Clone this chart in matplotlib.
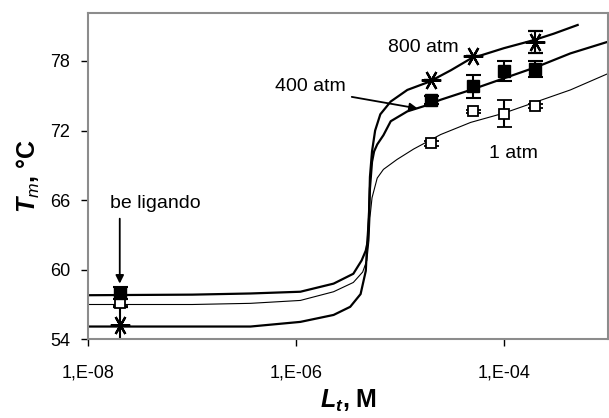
import matplotlib
matplotlib.use("Agg")
import matplotlib.pyplot as plt
import numpy as np

plt.rcParams['font.family'] = ['Liberation Sans', 'DejaVu Sans']
plt.rcParams['mathtext.fontset'] = 'custom'
plt.rcParams['mathtext.bfit'] = 'Liberation Sans:italic:bold'
plt.rcParams['mathtext.it'] = 'Liberation Sans:italic'
plt.rcParams['mathtext.bf'] = 'Liberation Sans:bold'
plt.rcParams['mathtext.rm'] = 'Liberation Sans'

# fitted curves: log10(L_t) and Tm
lx_800 = [-8.0, -7.0, -6.44, -5.96, -5.64, -5.48, -5.38, -5.33, -5.32, -5.30, -5.29,
          -5.27, -5.24, -5.19, -5.09, -4.93, -4.72, -4.51, -4.32, -4.0, -3.71, -3.52, -3.29]
tm_800 = [55.1, 55.1, 55.1, 55.5, 56.1, 56.8, 57.9, 59.9, 61.7, 64.5, 68.0,
          70.2, 72.0, 73.4, 74.5, 75.5, 76.2, 77.2, 78.2, 79.1, 79.8, 80.35, 81.1]

lx_400 = [-8.0, -7.0, -6.44, -5.96, -5.64, -5.45, -5.37, -5.33, -5.31, -5.30, -5.29,
          -5.27, -5.25, -5.22, -5.16, -5.09, -4.93, -4.77, -4.61, -4.32, -4.0, -3.68, -3.36, -3.0]
tm_400 = [57.8, 57.85, 57.95, 58.1, 58.8, 59.65, 60.8, 61.65, 62.5, 64.5, 67.0,
          69.3, 70.2, 70.8, 71.6, 72.8, 73.65, 74.1, 74.65, 75.5, 76.5, 77.5, 78.65, 79.65]

lx_1 = [-8.0, -7.0, -6.44, -5.96, -5.64, -5.45, -5.36, -5.32, -5.30, -5.29, -5.27,
        -5.22, -5.16, -5.03, -4.87, -4.61, -4.32, -4.0, -3.68, -3.36, -3.0]
tm_1 = [57.0, 57.0, 57.1, 57.35, 58.1, 58.9, 59.8, 60.8, 62.5, 64.5, 66.2,
        67.9, 68.65, 69.5, 70.4, 71.65, 72.7, 73.5, 74.5, 75.5, 76.9]

# measured points
conc = [2e-8, 2e-5, 5e-5, 1e-4, 2e-4]
pt_1 = [57.15, 70.9, 73.65, 73.45, 74.1]
err_1 = [0.3, 0.2, 0.15, 1.15, 0.2]
pt_400 = [58.0, 74.65, 75.8, 77.1, 77.3]
err_400 = [0.5, 0.35, 1.0, 0.86, 0.7]
conc_800 = [2e-8, 2e-5, 5e-5, 2e-4]
pt_800 = [55.2, 76.35, 78.45, 79.65]
err_800 = [1.6, 0.0, 0.0, 0.95]

xticks = [1e-8, 1e-6, 1e-4]
xticklabels = ["1,E-08", "1,E-06", "1,E-04"]
yticks = [54, 60, 66, 72, 78]

fig = plt.figure(figsize=(6.09, 4.18), dpi=100)
ax = fig.add_axes([0.1453, 0.1883, 0.8527, 0.7797])

ax.plot(10.0 ** np.array(lx_1), tm_1, color='black', lw=0.8)
ax.plot(10.0 ** np.array(lx_400), tm_400, color='black', lw=1.6)
ax.plot(10.0 ** np.array(lx_800), tm_800, color='black', lw=1.6)

eb = dict(ecolor='black', elinewidth=1.5, capsize=5.4, capthick=1.5, ls='none')
ax.errorbar(conc, pt_1, yerr=err_1, marker='s', ms=7, mfc='white', mec='black', mew=1.3, **eb)
ax.errorbar(conc, pt_400, yerr=err_400, marker='s', ms=8, mfc='black', mec='black', **eb)
ax.errorbar(conc_800, pt_800, yerr=err_800, marker=(6, 2, 90), ms=14, mec='black', mew=1.6, **eb)

ax.set_xscale('log')
ax.set_xlim(1e-8, 1e-3)
ax.set_ylim(54, 82.1)
ax.set_xticks(xticks)
ax.set_xticklabels(xticklabels)
ax.xaxis.set_minor_locator(matplotlib.ticker.NullLocator())
ax.set_yticks(yticks)
ax.tick_params(axis='both', direction='out', length=5, width=1, labelsize=13, color='black')
ax.tick_params(axis='y', pad=8)
ax.tick_params(axis='x', pad=13)
for s in ax.spines.values():
    s.set_color('#8c8c8c')
    s.set_linewidth(1.5)

ax.annotate('', xy=(2e-8, 58.8), xytext=(2e-8, 64.4),
            arrowprops=dict(arrowstyle='-|>', color='black', lw=1.3, mutation_scale=12,
                            shrinkA=0, shrinkB=0))
ax.text(10 ** -7.36, 65.7, 'be ligando', ha='center', va='center', fontsize=14)
ax.annotate('', xy=(10 ** -4.83, 73.9), xytext=(10 ** -5.465, 74.9),
            arrowprops=dict(arrowstyle='-|>', color='black', lw=1.3, mutation_scale=12,
                            shrinkA=0, shrinkB=0))
ax.text(10 ** -5.86, 75.8, '400 atm', ha='center', va='center', fontsize=14)
ax.text(10 ** -4.775, 79.2, '800 atm', ha='center', va='center', fontsize=14)
ax.text(10 ** -3.91, 70.0, '1 atm', ha='center', va='center', fontsize=14)

ax.set_ylabel(r'$\mathbfit{T}_{\mathit{m}}$, °C', fontsize=18, fontweight='bold', labelpad=6)
ax.set_xlabel(r'$\mathbfit{L}_{\mathbfit{t}}$, M', fontsize=18, fontweight='bold', labelpad=5)

fig.savefig('out.png', dpi=100)
